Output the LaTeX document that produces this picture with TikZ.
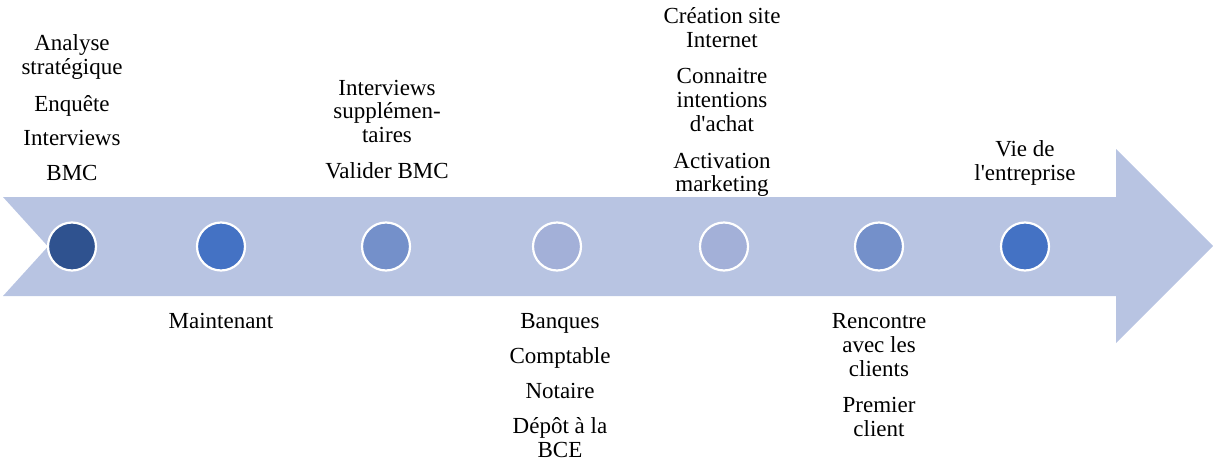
\documentclass[tikz,border=0pt]{standalone}
\usepackage{fontspec}
\setmainfont{Liberation Serif}[Ligatures=TeXOff]
\definecolor{arrowfill}{HTML}{B8C4E2}
\definecolor{dotA}{HTML}{2F528F}
\definecolor{dotB}{HTML}{4472C4}
\definecolor{dotC}{HTML}{7490CA}
\definecolor{dotD}{HTML}{A3B0D8}
\tikzset{
  txt/.style={anchor=base, inner sep=0pt, font=\fontsize{23}{24}\selectfont},
  dot/.style={circle, draw=white, line width=2.2pt, minimum size=48pt, inner sep=0pt}
}
\begin{document}
\begin{tikzpicture}[x=1pt, y=-1pt]
\useasboundingbox (0,0) rectangle (1213,461);
% arrow
\fill[arrowfill] (3,197) -- (1116,197) -- (1116,149) -- (1213,246) -- (1116,343) -- (1116,296) -- (3,296) -- (48,246.5) -- cycle;
% dots
\node[dot, fill=dotA] (d1) at (72,246.5) {};
\node[dot, fill=dotB] (d2) at (221,246.5) {};
\node[dot, fill=dotC] (d3) at (386,246.5) {};
\node[dot, fill=dotD] (d4) at (557,246.5) {};
\node[dot, fill=dotD] (d5) at (724,246.5) {};
\node[dot, fill=dotC] (d6) at (879,246.5) {};
\node[dot, fill=dotB] (d7) at (1025,246.5) {};
% group 1
\node[txt] (g1a) at (72,50) {Analyse};
\node[txt] (g1b) at (72,74) {stratégique};
\node[txt] (g1c) at (72,111) {Enquête};
\node[txt] (g1d) at (72,145) {Interviews};
\node[txt] (g1e) at (72,180) {BMC};
% group 2
\node[txt] (g2a) at (221,328) {Maintenant};
% group 3
\node[txt] (g3a) at (387,95) {Interviews};
\node[txt] (g3b) at (387,118) {supplémen-};
\node[txt] (g3c) at (387,142) {taires};
\node[txt] (g3d) at (387,178) {Valider BMC};
% group 4
\node[txt] (g4a) at (560,328) {Banques};
\node[txt] (g4b) at (560,363) {Comptable};
\node[txt] (g4c) at (560,398) {Notaire};
\node[txt] (g4d) at (560,433) {Dépôt à la};
\node[txt] (g4e) at (560,457) {BCE};
% group 5
\node[txt] (g5a) at (722,23) {Création site};
\node[txt] (g5b) at (722,47) {Internet};
\node[txt] (g5c) at (722,83) {Connaitre};
\node[txt] (g5d) at (722,107) {intentions};
\node[txt] (g5e) at (722,131) {d'achat};
\node[txt] (g5f) at (722,168) {Activation};
\node[txt] (g5g) at (722,191) {marketing};
% group 6
\node[txt] (g6a) at (879,328) {Rencontre};
\node[txt] (g6b) at (879,352) {avec les};
\node[txt] (g6c) at (879,376) {clients};
\node[txt] (g6d) at (879,412) {Premier};
\node[txt] (g6e) at (879,436) {client};
% group 7
\node[txt] (g7a) at (1025,156) {Vie de};
\node[txt] (g7b) at (1025,180) {l'entreprise};
\end{tikzpicture}
\end{document}
